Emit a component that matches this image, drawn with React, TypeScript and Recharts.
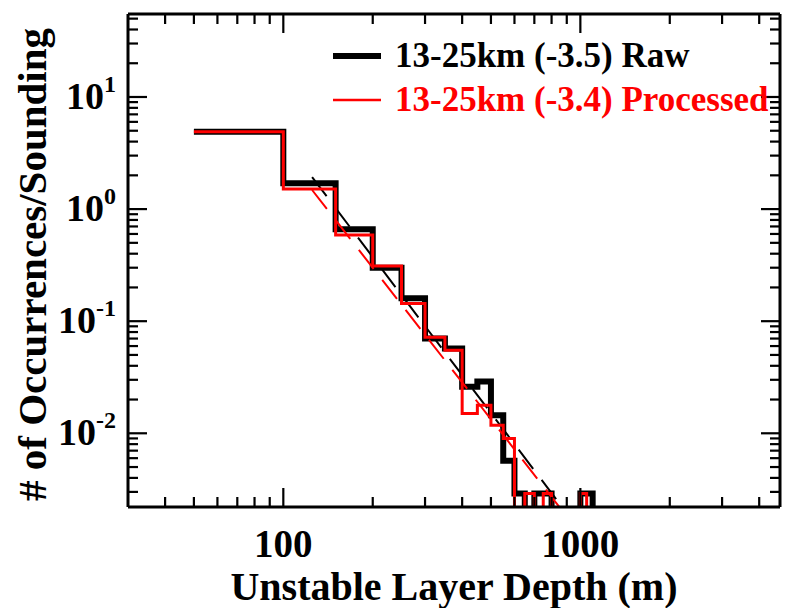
import React from 'react';
import { ComposedChart, Line, XAxis, YAxis, Legend } from 'recharts';

// Histogram bin edges (m); each value holds from its edge to the next one
const binEdges = [50, 100, 150, 200, 250, 300, 350, 400, 450, 500, 550, 600, 650, 700, 750, 800, 850, 900, 950, 1000, 1050, 1100];
const rawValues = [4.9, 1.7, 0.66, 0.3, 0.16, 0.07, 0.057, 0.026, 0.029, 0.0145, 0.0057, 0.0029, 0, 0.0029, 0.0029, 0, 0, 0, 0, 0.0029, 0.0029, 0];
const processedValues = [4.9, 1.51, 0.586, 0.31, 0.144, 0.072, 0.055, 0.015, 0.0178, 0.0118, 0.009, 0, 0.0029, 0, 0.0029, 0, 0, 0, 0, 0.0029, 0, 0];

const RAW_NAME = '13-25km (-3.5) Raw';
const PROCESSED_NAME = '13-25km (-3.4) Processed';
const legendOrder = [RAW_NAME, PROCESSED_NAME];

// Power-law fit end points
const rawFitDepth = [125, 900];
const rawFitValues = [1.93, 0.00194];
const processedFitDepth = [125, 900];
const processedFitValues = [1.48, 0.00181];

const xTicks = [40, 50, 60, 70, 80, 90, 100, 200, 300, 400, 500, 600, 700, 800, 900, 1000, 2000, 3000, 4000];
const yTicks = [
  0.003, 0.004, 0.005, 0.006, 0.007, 0.008, 0.009, 0.01,
  0.02, 0.03, 0.04, 0.05, 0.06, 0.07, 0.08, 0.09, 0.1,
  0.2, 0.3, 0.4, 0.5, 0.6, 0.7, 0.8, 0.9, 1,
  2, 3, 4, 5, 6, 7, 8, 9, 10, 20, 30, 40, 50,
];

const X_DOMAIN: [number, number] = [30, 4700];
const Y_DOMAIN: [number, number] = [0.0022, 55];
// zero counts can't sit on a log axis, push them below the frame
const FLOOR = 1e-4;

const FONT = '"Liberation Serif", "Times New Roman", Times, serif';
const MAJOR_LEN = 19;
const MINOR_LEN = 10;

const toSteps = (values: number[]) =>
  binEdges.map((depth, i) => ({ depth, value: values[i] > 0 ? values[i] : FLOOR }));
const toPoints = (depths: number[], values: number[]) =>
  depths.map((depth, i) => ({ depth, value: values[i] }));

const rawData = toSteps(rawValues);
const processedData = toSteps(processedValues);
const rawFit = toPoints(rawFitDepth, rawFitValues);
const processedFit = toPoints(processedFitDepth, processedFitValues);

const isMajor = (v: number) => Math.abs(Math.log10(v) - Math.round(Math.log10(v))) < 1e-6;

const BottomTick = (props: any) => {
  const { x, y, payload } = props;
  const major = isMajor(payload.value);
  return (
    <g>
      <line x1={x} x2={x} y1={y} y2={y - (major ? MAJOR_LEN : MINOR_LEN)} stroke="#000" strokeWidth={2.2} />
      {major && (
        <text x={x} y={y + 50} textAnchor="middle" fontFamily={FONT} fontWeight="bold" fontSize={39} fill="#000">
          {payload.value}
        </text>
      )}
    </g>
  );
};

const TopTick = (props: any) => {
  const { x, y, payload } = props;
  const major = isMajor(payload.value);
  return <line x1={x} x2={x} y1={y} y2={y + (major ? MAJOR_LEN : MINOR_LEN)} stroke="#000" strokeWidth={2.2} />;
};

const LeftTick = (props: any) => {
  const { x, y, payload } = props;
  const major = isMajor(payload.value);
  const exp = Math.round(Math.log10(payload.value));
  return (
    <g>
      <line x1={x} x2={x + (major ? MAJOR_LEN : MINOR_LEN)} y1={y} y2={y} stroke="#000" strokeWidth={2.2} />
      {major && (
        <text x={x - 12} y={y + 12} textAnchor="end" fontFamily={FONT} fontWeight="bold" fontSize={38} fill="#000">
          10
          <tspan dy={-17} fontSize={24}>{exp}</tspan>
        </text>
      )}
    </g>
  );
};

const RightTick = (props: any) => {
  const { x, y, payload } = props;
  const major = isMajor(payload.value);
  return <line x1={x} x2={x - (major ? MAJOR_LEN : MINOR_LEN)} y1={y} y2={y} stroke="#000" strokeWidth={2.2} />;
};

const renderLegend = (props: any) => {
  const entries = (props.payload || [])
    .filter((entry: any) => legendOrder.includes(entry.value))
    .sort((a: any, b: any) => legendOrder.indexOf(a.value) - legendOrder.indexOf(b.value));
  return (
    <div style={{ fontFamily: FONT, fontWeight: 'bold', fontSize: 35 }}>
      {entries.map((entry: any) => (
        <div key={entry.value} style={{ display: 'flex', alignItems: 'center', height: 44, color: entry.color }}>
          <svg width={48} height={10} style={{ marginRight: 14 }}>
            <line x1={0} x2={48} y1={5} y2={5} stroke={entry.color} strokeWidth={entry.value === RAW_NAME ? 6 : 2.5} />
          </svg>
          <span style={{ whiteSpace: 'nowrap', lineHeight: '44px' }}>{entry.value}</span>
        </div>
      ))}
    </div>
  );
};

const renderXTitle = (props: any) => {
  const { viewBox } = props;
  return (
    <text x={viewBox.x + viewBox.width / 2} y={viewBox.y + 93} textAnchor="middle" fontFamily={FONT} fontWeight="bold" fontSize={40} fill="#000">
      Unstable Layer Depth (m)
    </text>
  );
};

const renderYTitle = (props: any) => {
  const { viewBox } = props;
  const cx = viewBox.x + viewBox.width - 82;
  const cy = viewBox.y + viewBox.height / 2 + 4;
  return (
    <text x={cx} y={cy} transform={`rotate(-90, ${cx}, ${cy})`} textAnchor="middle" fontFamily={FONT} fontWeight="bold" fontSize={41} fill="#000">
      # of Occurrences/Sounding
    </text>
  );
};

const axisLine = { stroke: '#000', strokeWidth: 3 };

export default function App() {
  return (
    <div style={{ position: 'absolute', left: 0, top: 0, background: '#fff' }}>
      <ComposedChart width={786} height={608} margin={{ top: 13, right: 5, bottom: 100, left: 127 }}>
        <XAxis
          xAxisId="bottom"
          dataKey="depth"
          type="number"
          scale="log"
          domain={X_DOMAIN}
          allowDataOverflow
          ticks={xTicks}
          interval={0}
          height={1}
          tickSize={0}
          tickMargin={0}
          tickLine={false}
          axisLine={axisLine}
          tick={<BottomTick />}
          label={{ content: renderXTitle }}
        />
        <XAxis
          xAxisId="top"
          orientation="top"
          dataKey="depth"
          type="number"
          scale="log"
          domain={X_DOMAIN}
          allowDataOverflow
          ticks={xTicks}
          interval={0}
          height={1}
          tickSize={0}
          tickMargin={0}
          tickLine={false}
          axisLine={axisLine}
          tick={<TopTick />}
        />
        <YAxis
          yAxisId="left"
          type="number"
          scale="log"
          domain={Y_DOMAIN}
          allowDataOverflow
          ticks={yTicks}
          interval={0}
          width={1}
          tickSize={0}
          tickMargin={0}
          tickLine={false}
          axisLine={axisLine}
          tick={<LeftTick />}
          label={{ content: renderYTitle }}
        />
        <YAxis
          yAxisId="right"
          orientation="right"
          type="number"
          scale="log"
          domain={Y_DOMAIN}
          allowDataOverflow
          ticks={yTicks}
          interval={0}
          width={1}
          tickSize={0}
          tickMargin={0}
          tickLine={false}
          axisLine={axisLine}
          tick={<RightTick />}
        />
        <Legend
          layout="vertical"
          align="center"
          verticalAlign="middle"
          content={renderLegend}
          wrapperStyle={{ left: 333, top: 34, width: 460 }}
        />
        <Line
          xAxisId="bottom"
          yAxisId="left"
          data={rawData}
          dataKey="value"
          name={RAW_NAME}
          type="stepAfter"
          stroke="#000"
          strokeWidth={6}
          dot={false}
          activeDot={false}
          isAnimationActive={false}
        />
        <Line
          xAxisId="bottom"
          yAxisId="left"
          data={rawFit}
          dataKey="value"
          name="raw fit"
          legendType="none"
          type="linear"
          stroke="#000"
          strokeWidth={2}
          strokeDasharray="24 14"
          dot={false}
          activeDot={false}
          isAnimationActive={false}
        />
        <Line
          xAxisId="bottom"
          yAxisId="left"
          data={processedData}
          dataKey="value"
          name={PROCESSED_NAME}
          type="stepAfter"
          stroke="#ff0000"
          strokeWidth={3}
          dot={false}
          activeDot={false}
          isAnimationActive={false}
        />
        <Line
          xAxisId="bottom"
          yAxisId="left"
          data={processedFit}
          dataKey="value"
          name="processed fit"
          legendType="none"
          type="linear"
          stroke="#ff0000"
          strokeWidth={2}
          strokeDasharray="24 14"
          dot={false}
          activeDot={false}
          isAnimationActive={false}
        />
      </ComposedChart>
    </div>
  );
}
